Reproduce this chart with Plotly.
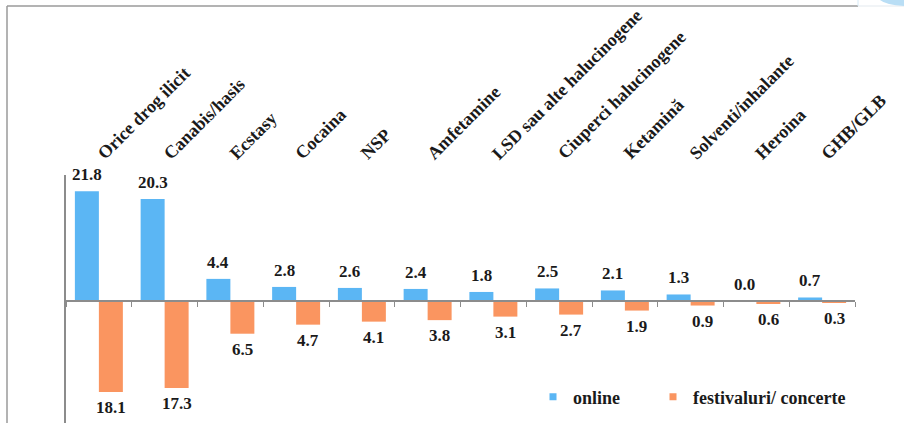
import plotly.graph_objects as go

categories = ["Orice drog ilicit", "Canabis/hasis", "Ecstasy", "Cocaina", "NSP",
              "Amfetamine", "LSD sau alte halucinogene", "Ciuperci halucinogene",
              "Ketamină", "Solventi/inhalante", "Heroina", "GHB/GLB"]
online = [21.8, 20.3, 4.4, 2.8, 2.6, 2.4, 1.8, 2.5, 2.1, 1.3, 0.0, 0.7]
festivaluri = [18.1, 17.3, 6.5, 4.7, 4.1, 3.8, 3.1, 2.7, 1.9, 0.9, 0.6, 0.3]

BLUE = "#5BB6F4"
ORANGE = "#FA9560"
AXIS_GREY = "#8c8c8c"
TEXT = "#1a1a1a"
FONT = "Liberation Serif"

W, H = 904, 423
ML, MR, MT, MB = 66, 49, 175, 0
Y_MIN, Y_MAX = -24.25, 25.05

def px_x(p):
    return (p - ML) / (W - ML - MR)

def px_y(p):
    return (H - MB - p) / (H - MT - MB)

fig = go.Figure()
fig.add_trace(go.Bar(name="online", x=categories, y=online, showlegend=False,
                     marker=dict(color=BLUE, line=dict(width=0))))
fig.add_trace(go.Bar(name="festivaluri/ concerte", x=categories,
                     y=[-v for v in festivaluri], showlegend=False,
                     marker=dict(color=ORANGE, line=dict(width=0))))
# small square legend keys
fig.add_trace(go.Scatter(name="online", x=[None], y=[None], mode="markers",
                         marker=dict(symbol="square", size=7, color=BLUE),
                         legend="legend"))
fig.add_trace(go.Scatter(name="festivaluri/ concerte", x=[None], y=[None], mode="markers",
                         marker=dict(symbol="square", size=7, color=ORANGE),
                         legend="legend2"))

label_font = dict(family=FONT, size=17, color=TEXT, weight="bold")
cat_font = dict(family=FONT, size=18, color=TEXT, weight="bold")

annotations = []
# value labels: online above its bar, festival below its bar
for cat, v in zip(categories, online):
    annotations.append(dict(x=cat, y=v, xref="x", yref="y", text=f"{v:.1f}",
                            showarrow=False, xshift=-12, yshift=5, yanchor="bottom",
                            font=label_font))
for cat, v in zip(categories, festivaluri):
    annotations.append(dict(x=cat, y=-v, xref="x", yref="y", text=f"{v:.1f}",
                            showarrow=False, xshift=12, yshift=-4, yanchor="top",
                            font=label_font))
# rotated category names above the plot
for cat in categories:
    annotations.append(dict(x=cat, y=1, xref="x", yref="paper", text=cat,
                            showarrow=False, textangle=-45, xanchor="left",
                            yanchor="bottom", xshift=-8, yshift=9,
                            font=cat_font))

shapes = [
    # outer frame (left and top edges)
    dict(type="line", xref="paper", yref="paper", x0=px_x(7), y0=px_y(6),
         x1=px_x(7), y1=px_y(430), line=dict(color="#9a9a9a", width=1.5)),
    dict(type="line", xref="paper", yref="paper", x0=px_x(7), y0=px_y(6),
         x1=px_x(858), y1=px_y(6), line=dict(color="#9a9a9a", width=1.5)),
    dict(type="line", xref="paper", yref="paper", x0=px_x(858), y0=px_y(6),
         x1=px_x(904), y1=px_y(6), line=dict(color="#e3e9ee", width=1)),
    dict(type="line", xref="paper", yref="paper", x0=px_x(858), y0=px_y(0),
         x1=px_x(858), y1=px_y(6), line=dict(color="#d6eaf7", width=1)),
    # corner ornament
    dict(type="path", xref="paper", yref="paper",
         path=(f"M {px_x(880)} {px_y(0)} Q {px_x(886)} {px_y(5)} {px_x(904)} {px_y(6)} "
               f"L {px_x(904)} {px_y(0)} Z"),
         fillcolor="#b9def5", line=dict(width=0)),
]

legend_common = dict(orientation="h", xanchor="left", yanchor="middle",
                     bgcolor="rgba(0,0,0,0)", font=cat_font)

fig.update_layout(
    width=W, height=H,
    margin=dict(l=ML, r=MR, t=MT, b=MB, pad=0),
    paper_bgcolor="white", plot_bgcolor="white",
    barmode="group", bargap=0.27, bargroupgap=0,
    showlegend=True,
    legend=dict(x=px_x(533), y=px_y(397), **legend_common),
    legend2=dict(x=px_x(653), y=px_y(397), **legend_common),
    xaxis=dict(type="category", range=[-0.5, len(categories) - 0.5],
               anchor="free", position=(0 - Y_MIN) / (Y_MAX - Y_MIN),
               showline=True, linecolor=AXIS_GREY, linewidth=1.5,
               ticks="outside", tickson="boundaries", ticklen=5, tickcolor=AXIS_GREY,
               showticklabels=False, showgrid=False, zeroline=False),
    yaxis=dict(range=[Y_MIN, Y_MAX], showline=True, linecolor=AXIS_GREY, linewidth=1.5,
               showticklabels=False, ticks="", showgrid=False, zeroline=False),
    annotations=annotations,
    shapes=shapes,
)

fig.write_html("out.html")
